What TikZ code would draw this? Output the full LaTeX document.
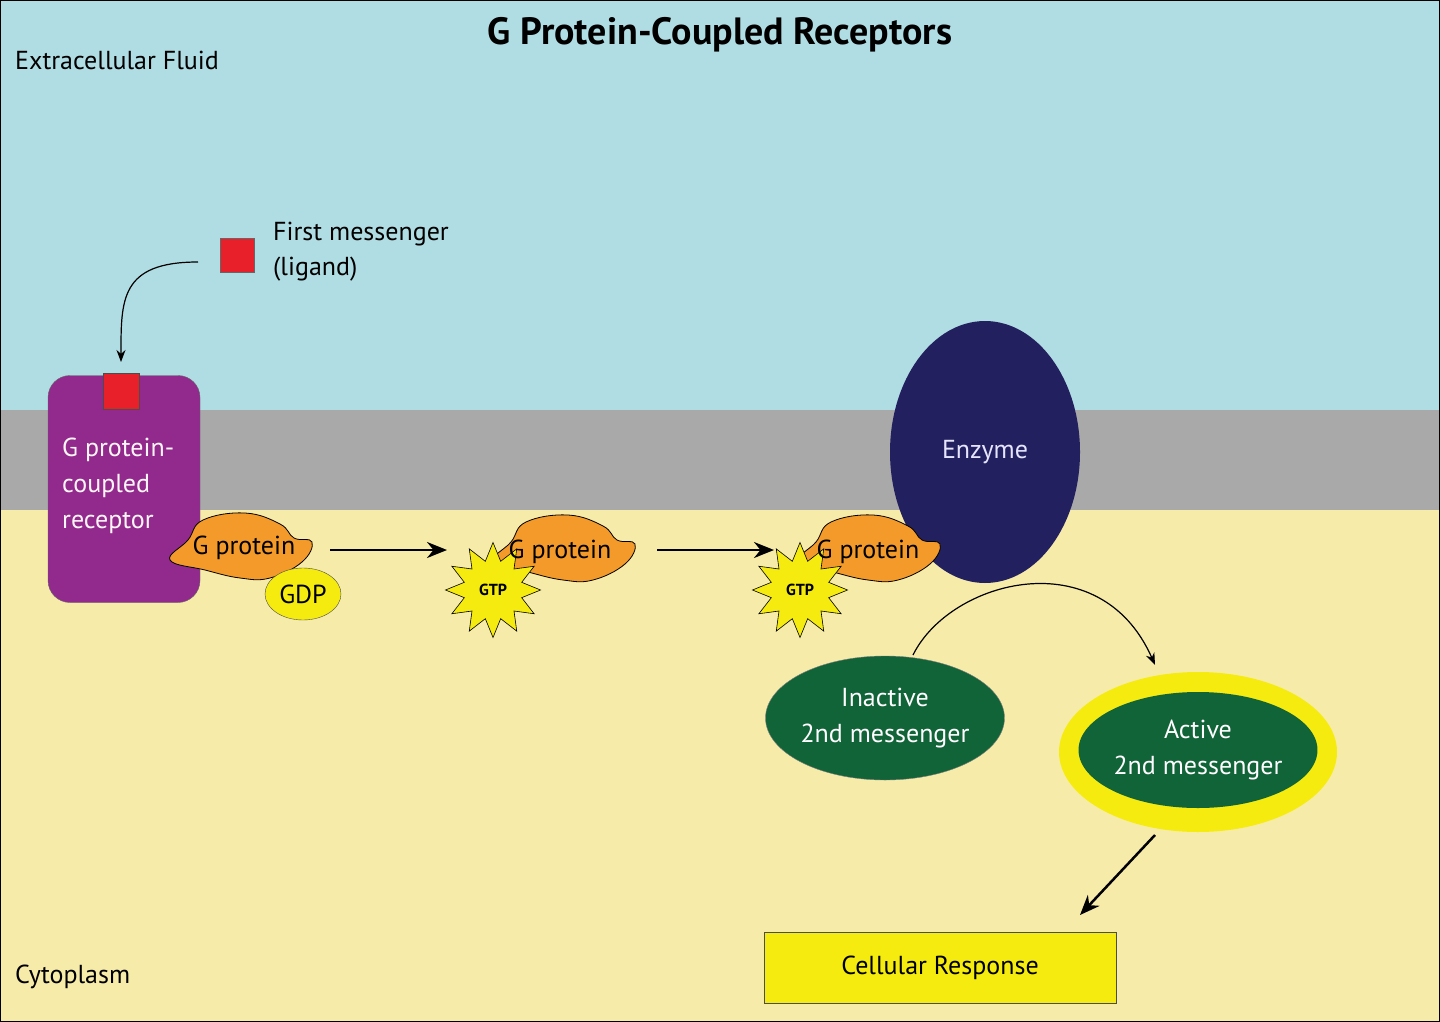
\documentclass[tikz,border=0pt]{standalone}
\usepackage{fontspec}
\setmainfont{PT Sans}
\usetikzlibrary{shapes.geometric,arrows.meta}
\definecolor{sky}{HTML}{B0DDE3}
\definecolor{memb}{HTML}{A9A9A9}
\definecolor{cyto}{HTML}{F7EBAA}
\definecolor{purp}{HTML}{922A8E}
\definecolor{orng}{HTML}{F39A2B}
\definecolor{navy}{HTML}{23205F}
\definecolor{grn}{HTML}{116338}
\definecolor{yel}{HTML}{F5EB0F}
\definecolor{lig}{HTML}{E8202A}
\tikzset{
 lbl/.style={font=\fontsize{26}{30}\selectfont, inner sep=0pt},
 wlbl/.style={lbl, text=white, align=center, font=\fontsize{26}{36}\selectfont},
 arr/.style={-{Stealth[length=20pt,width=16pt]}, line width=2.5pt},
 thin arr/.style={-{Stealth[length=12pt,width=9pt]}, line width=1.2pt},
 gtp/.style={star, star points=12, star point ratio=1.6, minimum size=95pt, fill=yel, draw=black, line width=0.6pt, inner sep=0pt, font=\bfseries\fontsize{16}{18}\selectfont},
 pics/gprot/.style={code={
   \draw[fill=orng, line width=0.8pt] plot[smooth cycle, tension=0.7] coordinates {(-70,12) (-52,-8) (-37,-28) (5,-35) (40,-24) (54,-10) (72,-6) (62,14) (30,30) (0,30) (-35,22)};
 }},
}
\begin{document}
\begin{tikzpicture}[x=1pt,y=-1pt]
\useasboundingbox (0,0) rectangle (1440,1022);
\fill[sky] (0,0) rectangle (1440,410);
\fill[memb] (0,410) rectangle (1440,510);
\fill[cyto] (0,510) rectangle (1440,1022);
\node[font=\bfseries\fontsize{38}{42}\selectfont] (title) at (720,35) {G Protein-Coupled Receptors};
\node[lbl, anchor=west] (ecf) at (15,60) {Extracellular Fluid};
\node[lbl, anchor=west] (cyt) at (15,977) {Cytoplasm};
% ligand
\node[fill=lig, draw=black!60, minimum size=34pt, inner sep=0pt] (lig) at (237,255) {};
\node[lbl, anchor=north west, align=left, font=\fontsize{26}{35}\selectfont] (ligt) at (273,222) {First messenger\\(ligand)};
% receptor
\node[draw=black!60, fill=purp, rounded corners=22pt, minimum width=152pt, minimum height=227pt, inner sep=0pt] (rec) at (124,489) {};
\node[fill=lig, draw=black!70, line width=1pt, minimum size=36pt, inner sep=0pt] (site) at (121,391) {};
\coordinate (arrend) at (121,362);
\draw[thin arr] (198,262) .. controls (120,262) and (121,300) .. (arrend);
\node[wlbl, text=white!85!pink, align=left, anchor=north west] (rect) at (62,438) {G protein-\\coupled\\receptor};
% G protein 1
\pic at (240,548) {gprot};
\node[lbl] (g1) at (244,548) {G protein};
\node[ellipse, fill=yel, draw=black!70, minimum width=76pt, minimum height=52pt, inner sep=0pt, lbl] (gdp) at (303,594) {GDP};
\coordinate (a1s) at (330,550); \coordinate (a1e) at (447,550);
\draw[arr] (a1s) -- (a1e);
% G protein 2
\pic at (563,550) {gprot};
\node[gtp] (gtp1) at (493,590) {GTP};
\node[lbl] (g2) at (560,552) {G protein};
\coordinate (a2s) at (657,550); \coordinate (a2e) at (774,550);
\draw[arr] (a2s) -- (a2e);
% enzyme
\node[ellipse, fill=navy, minimum width=190pt, minimum height=262pt, inner sep=0pt, text=white!90!blue, lbl] (enz) at (985,452) {Enzyme};
% G protein 3
\pic at (868,550) {gprot};
\node[gtp] (gtp2) at (800,590) {GTP};
\node[lbl] (g3) at (868,552) {G protein};
% messengers
\node[ellipse, fill=grn, draw=black!50, minimum width=224pt, minimum height=124pt, inner sep=0pt, wlbl] (inact) at (885,718) {Inactive\\2nd messenger};
\node[ellipse, fill=yel, minimum width=278pt, minimum height=160pt, inner sep=0pt] (halo) at (1198,752) {};
\node[ellipse, fill=grn, minimum width=222pt, minimum height=116pt, inner sep=0pt, wlbl] (act) at (1198,750) {Active\\2nd messenger};
\coordinate (c1) at (913,655); \coordinate (c2) at (1155,665);
\draw[thin arr] (c1) .. controls (950,580) and (1100,540) .. (c2);
% response
\node[fill=yel, draw=black!70, line width=1pt, minimum width=352pt, minimum height=71pt, inner sep=0pt, lbl] (resp) at (940,968) {Cellular Response};
\coordinate (r1) at (1155,835); \coordinate (r2) at (1080,915);
\draw[arr] (r1) -- (r2);
\draw[line width=1.5pt] (0,0) rectangle (1440,1022);
\end{tikzpicture}
\end{document}
